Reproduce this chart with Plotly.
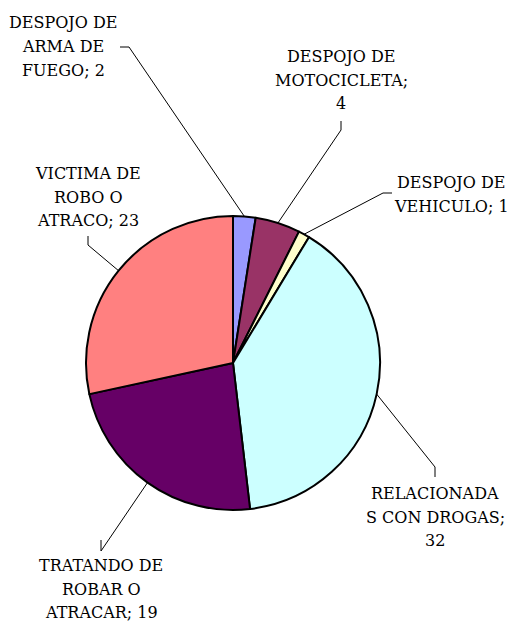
import math
import plotly.graph_objects as go

labels = ["DESPOJO DE ARMA DE FUEGO", "DESPOJO DE MOTOCICLETA", "DESPOJO DE VEHICULO",
          "RELACIONADAS CON DROGAS", "TRATANDO DE ROBAR O ATRACAR", "VICTIMA DE ROBO O ATRACO"]
values = [2, 4, 1, 32, 19, 23]
label_lines = [["DESPOJO DE", "ARMA DE", "FUEGO; 2"],
               ["DESPOJO DE", "MOTOCICLETA;", "4"],
               ["DESPOJO DE", "VEHICULO; 1"],
               ["RELACIONADA", "S CON DROGAS;", "32"],
               ["TRATANDO DE", "ROBAR O", "ATRACAR; 19"],
               ["VICTIMA DE", "ROBO O", "ATRACO; 23"]]
colors = ["#9999FF", "#993366", "#FFFFCC", "#CCFFFF", "#660066", "#FF8080"]

W, H = 509, 621
CX, CY, R = 233, 363, 147
LINE_H = 23.5

# label layout (pixel centres), leader elbow start and elbow direction
label_pos = [(63, 46.5), (341, 80.5), (451, 194.5), (435, 517), (101, 589), (88, 197)]
elbow = [((120, 47), (129, 47)), ((341, 121), (341, 130)), ((392, 193), (383, 193)),
         ((435, 477), (435, 467)), ((101, 540), (101, 551)), ((88, 236), (88, 245))]

def px(x):
    return x / W

def py(y):
    return 1 - y / H

fig = go.Figure(go.Pie(
    labels=labels, values=values, sort=False, direction="clockwise", rotation=0,
    marker=dict(colors=colors, line=dict(color="black", width=2)),
    textinfo="none", hoverinfo="label+value", showlegend=False,
    domain=dict(x=[px(CX - R), px(CX + R)], y=[py(CY + R), py(CY - R)]),
))

total = sum(values)
cum = 0
shapes = []
annotations = []
for i, v in enumerate(values):
    mid = (cum + v / 2) / total * 2 * math.pi
    cum += v
    ex, ey = CX + R * math.sin(mid), CY - R * math.cos(mid)
    (ax, ay), (bx, by) = elbow[i]
    shapes.append(dict(type="line", xref="paper", yref="paper",
                       x0=px(ax), y0=py(ay), x1=px(bx), y1=py(by),
                       line=dict(color="black", width=1)))
    shapes.append(dict(type="line", xref="paper", yref="paper",
                       x0=px(bx), y0=py(by), x1=px(ex), y1=py(ey),
                       line=dict(color="black", width=1)))
    lx, ly = label_pos[i]
    n = len(label_lines[i])
    for k, line in enumerate(label_lines[i]):
        yy = ly + (k - (n - 1) / 2) * LINE_H
        annotations.append(dict(text=line, xref="paper", yref="paper",
                                x=px(lx), y=py(yy), xanchor="center", yanchor="middle",
                                showarrow=False, align="center",
                                font=dict(family="DejaVu Serif", size=16, color="black")))

fig.update_layout(width=W, height=H, margin=dict(l=0, r=0, t=0, b=0),
                  paper_bgcolor="white", plot_bgcolor="white",
                  font=dict(family="DejaVu Serif"),
                  shapes=shapes, annotations=annotations)
fig.write_html("out.html", config={"displayModeBar": False},
               post_script="document.body.style.margin='0';")
